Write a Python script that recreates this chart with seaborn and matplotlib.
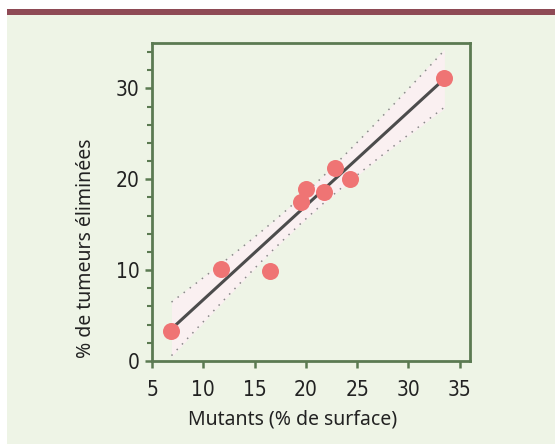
import numpy as np
import pandas as pd
import matplotlib.pyplot as plt
import seaborn as sns
from matplotlib.patches import Rectangle
from matplotlib.ticker import MultipleLocator

# Data

mutants = [6.9, 11.7, 16.5, 19.5, 20.0, 21.8, 22.8, 24.3, 33.5]
tumeurs = [3.3, 10.1, 9.9, 17.5, 18.9, 18.6, 21.2, 20.0, 31.2]
x_ticks = [5, 10, 15, 20, 25, 30, 35]
y_ticks = [0, 10, 20, 30]

df = pd.DataFrame({"mutants": mutants, "tumeurs": tumeurs})

bg = "#EEF4E6"
green = "#5B7A52"

sns.set_style("white")
plt.rcParams["font.family"] = ["DejaVu Sans"]
plt.rcParams["font.stretch"] = "condensed"

fig = plt.figure(figsize=(5.55, 4.44), dpi=100)
fig.patch.set_facecolor("white")
fig.patches.append(Rectangle((7 / 555, 0), 1, 1 - 15 / 444, transform=fig.transFigure,
                             facecolor=bg, edgecolor="none", zorder=-10))
fig.patches.append(Rectangle((7 / 555, 1 - 14.7 / 444), 1, 5.4 / 444, transform=fig.transFigure,
                             facecolor="#8E4A55", edgecolor="none", zorder=-9))

ax = fig.add_axes([152 / 555, 1 - 361 / 444, 318 / 555, 318 / 444])
ax.set_facecolor(bg)

# Confidence band of the regression (95 %, mean)

x = np.array(mutants)
y = np.array(tumeurs)
n = len(x)
slope, intercept = np.polyfit(x, y, 1)
resid = y - (slope * x + intercept)
s = np.sqrt(np.sum(resid ** 2) / (n - 2))
sxx = np.sum((x - x.mean()) ** 2)
grid = np.linspace(x.min(), x.max(), 100)
half = 2.365 * s * np.sqrt(1 / n + (grid - x.mean()) ** 2 / sxx)
fit = slope * grid + intercept

ax.fill_between(grid, fit - half * 1.05, fit + half * 1.05, color="#FAF0F1", lw=0, zorder=1)
ax.plot(grid, fit + half, color="#8A8A8A", lw=1.1, ls=(0, (1, 4)), zorder=2)
ax.plot(grid, fit - half, color="#8A8A8A", lw=1.1, ls=(0, (1, 4)), zorder=2)

sns.regplot(x="mutants", y="tumeurs", data=df, ax=ax, ci=None,
            scatter_kws={"s": 150, "color": "#EF7474", "alpha": 1, "zorder": 4, "linewidths": 0},
            line_kws={"color": "#4C4C4C", "lw": 2.2, "zorder": 3})

ax.set_xlim(5, 36)
ax.set_ylim(0, 35)
ax.set_xticks(x_ticks)
ax.set_yticks(y_ticks)
ax.yaxis.set_minor_locator(MultipleLocator(2))

for sp in ax.spines.values():
    sp.set_color(green)
    sp.set_linewidth(2)

ax.tick_params(axis="both", which="major", direction="out", length=5, width=1.8,
               color=green, labelsize=15, labelcolor="#222222", pad=4)
ax.tick_params(axis="x", which="major", pad=9)
ax.tick_params(axis="y", which="minor", direction="out", length=3.5, width=1.5,
               color=green, left=True)
ax.tick_params(bottom=True, left=True)

ax.set_xlabel("Mutants (% de surface)", fontsize=14, color="#222222",
              family=["Noto Sans", "DejaVu Sans"], fontstretch="normal")
ax.set_ylabel("% de tumeurs éliminées", fontsize=14, color="#222222",
              family=["Noto Sans", "DejaVu Sans"], fontstretch="normal")
ax.xaxis.set_label_coords(0.443, -0.152)
ax.yaxis.set_label_coords(-0.175, 0.355)

plt.savefig("out.png", dpi=100)
